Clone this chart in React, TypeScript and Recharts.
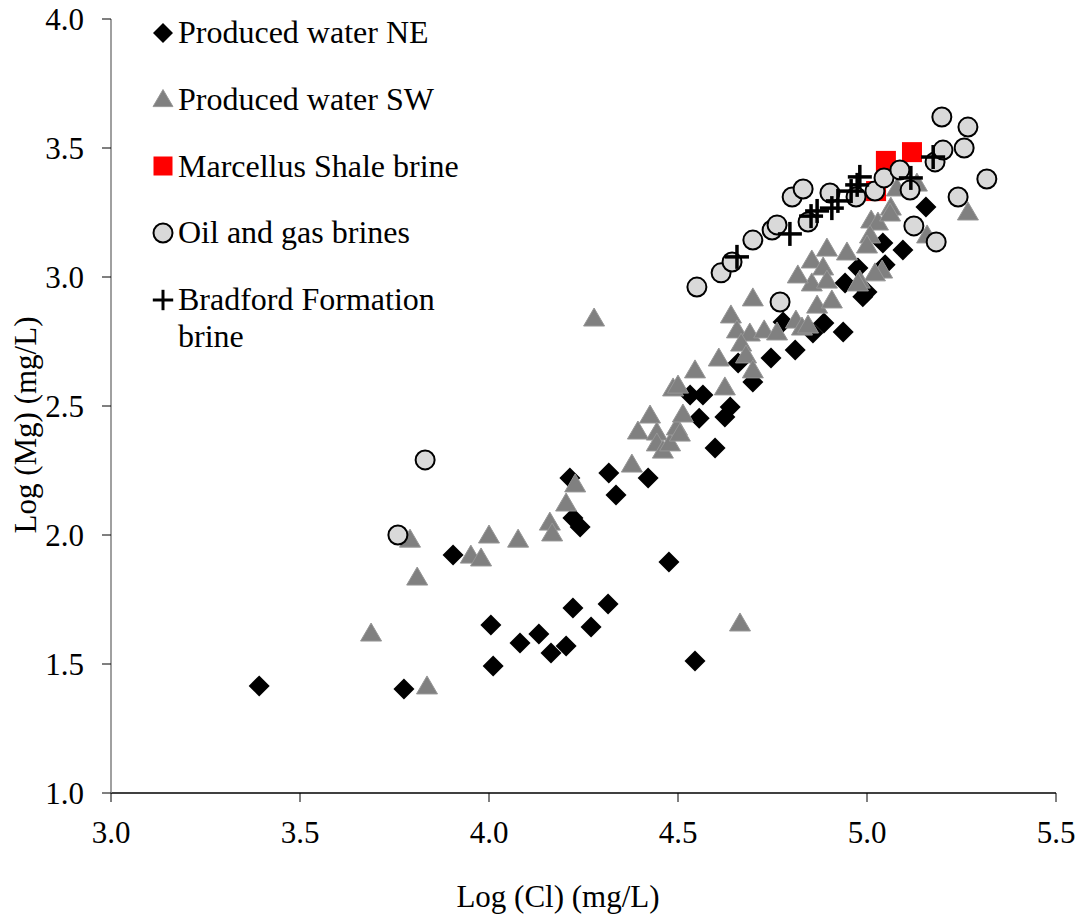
import React from 'react';
import { ScatterChart, Scatter, XAxis, YAxis, Legend } from 'recharts';

const FONT = '"Liberation Serif", "Times New Roman", serif';

const X_TICKS = [3.0, 3.5, 4.0, 4.5, 5.0, 5.5];
const Y_TICKS = [1.0, 1.5, 2.0, 2.5, 3.0, 3.5, 4.0];

const SERIES_NAMES = [
  'Produced water NE',
  'Produced water SW',
  'Marcellus Shale brine',
  'Oil and gas brines',
  'Bradford Formation brine',
];

const PRODUCED_NE: [number, number][] = [
  [3.392, 1.415], [3.775, 1.403], [3.905, 1.922], [4.005, 1.651], [4.011, 1.492],
  [4.082, 1.581], [4.132, 1.616], [4.164, 1.543], [4.204, 1.570], [4.222, 1.717],
  [4.270, 1.643], [4.315, 1.733], [4.476, 1.895], [4.545, 1.512], [4.214, 2.221],
  [4.222, 2.066], [4.241, 2.031], [4.317, 2.240], [4.336, 2.155], [4.421, 2.221],
  [4.532, 2.543], [4.566, 2.543], [4.556, 2.453], [4.598, 2.337], [4.624, 2.457],
  [4.638, 2.496], [4.659, 2.667], [4.698, 2.593], [4.746, 2.686], [4.810, 2.717],
  [4.778, 2.826], [4.857, 2.783], [4.886, 2.822], [4.937, 2.787], [4.976, 3.035],
  [4.942, 2.977], [5.000, 2.942], [4.989, 2.923], [5.042, 3.132], [5.048, 3.047],
  [5.095, 3.105], [5.156, 3.271],
];

const PRODUCED_SW: [number, number][] = [
  [3.688, 1.620], [3.791, 1.984], [3.810, 1.837], [3.836, 1.415], [3.952, 1.922],
  [3.979, 1.911], [4.000, 2.000], [4.077, 1.984], [4.161, 2.050], [4.167, 2.008],
  [4.204, 2.124], [4.228, 2.198], [4.278, 2.841], [4.378, 2.275], [4.394, 2.403],
  [4.426, 2.465], [4.444, 2.399], [4.444, 2.357], [4.460, 2.329], [4.479, 2.357],
  [4.497, 2.419], [4.505, 2.395], [4.513, 2.469], [4.487, 2.570], [4.500, 2.581],
  [4.545, 2.640], [4.608, 2.686], [4.624, 2.574], [4.640, 2.853], [4.656, 2.795],
  [4.690, 2.783], [4.667, 2.744], [4.680, 2.698], [4.698, 2.640], [4.698, 2.919],
  [4.728, 2.795], [4.762, 2.787], [4.812, 2.833], [4.828, 2.806], [4.844, 2.814],
  [4.868, 2.891], [4.854, 2.977], [4.907, 2.911], [4.664, 1.659], [4.817, 3.008],
  [4.854, 3.066], [4.884, 3.039], [4.894, 3.112], [4.894, 2.988], [4.947, 3.097],
  [5.011, 3.221], [5.029, 3.213], [5.008, 3.163], [5.000, 3.124], [5.063, 3.271],
  [5.061, 3.248], [5.040, 3.027], [5.021, 3.016], [4.981, 2.988], [4.976, 2.977],
  [5.132, 3.364], [5.079, 3.345], [5.267, 3.252], [5.159, 3.163],
];

const MARCELLUS: [number, number][] = [
  [5.050, 3.450], [5.119, 3.484], [5.024, 3.333],
];

const OIL_GAS: [number, number][] = [
  [3.759, 2.000], [3.831, 2.291], [4.550, 2.961], [4.614, 3.016], [4.643, 3.058],
  [4.698, 3.143], [4.749, 3.182], [4.762, 3.202], [4.770, 2.903], [4.802, 3.310],
  [4.831, 3.341], [4.844, 3.213], [4.902, 3.326], [4.971, 3.310], [5.021, 3.333],
  [5.045, 3.384], [5.087, 3.415], [5.114, 3.337], [5.124, 3.198], [5.183, 3.136],
  [5.241, 3.310], [5.317, 3.380], [5.180, 3.446], [5.201, 3.492], [5.257, 3.500],
  [5.267, 3.581], [5.198, 3.620],
];

const BRADFORD: [number, number][] = [
  [4.656, 3.078], [4.796, 3.167], [4.852, 3.236], [4.868, 3.256], [4.907, 3.267],
  [4.923, 3.295], [4.958, 3.333], [4.974, 3.357], [4.981, 3.388], [5.116, 3.384],
  [5.175, 3.465],
];

const toPts = (arr: [number, number][]) => arr.map(([x, y]) => ({ x, y }));

const Diamond = (p: any) => {
  const { cx, cy } = p;
  const s = 10.5;
  return <polygon points={`${cx},${cy - s} ${cx + s},${cy} ${cx},${cy + s} ${cx - s},${cy}`} fill="#000" />;
};
const Triangle = (p: any) => {
  const { cx, cy } = p;
  return (
    <polygon
      points={`${cx},${cy - 10} ${cx + 10.5},${cy + 8} ${cx - 10.5},${cy + 8}`}
      fill="#808080"
      stroke="#969696"
      strokeWidth={1}
    />
  );
};
const Square = (p: any) => {
  const { cx, cy } = p;
  return <rect x={cx - 10} y={cy - 10} width={20} height={20} fill="#ff0000" />;
};
const Circle = (p: any) => {
  const { cx, cy } = p;
  return <circle cx={cx} cy={cy} r={9.5} fill="#d9d9d9" stroke="#000" strokeWidth={2} />;
};
const Plus = (p: any) => {
  const { cx, cy } = p;
  const h = 12;
  return (
    <g stroke="#000" strokeWidth={3.5}>
      <line x1={cx - h} y1={cy} x2={cx + h} y2={cy} />
      <line x1={cx} y1={cy - h} x2={cx} y2={cy + h} />
    </g>
  );
};

const SHAPES = [Diamond, Triangle, Square, Circle, Plus];

const LegendMarker = ({ idx }: { idx: number }) => {
  const S = SHAPES[idx];
  const scale = idx === 4 ? 0.85 : idx === 3 ? 1 : 0.95;
  return (
    <svg width={24} height={24} style={{ display: 'block' }}>
      <g transform={`translate(12,12) scale(${scale})`}>
        <S cx={0} cy={0} />
      </g>
    </svg>
  );
};

const renderLegend = () => (
  <div style={{ fontFamily: FONT, fontSize: 32, color: '#000' }}>
    {SERIES_NAMES.map((name, i) => (
      <div key={name} style={{ display: 'flex', alignItems: 'flex-start', marginBottom: 29.75 }}>
        <div style={{ width: 24, height: 37, display: 'flex', alignItems: 'center' }}>
          <LegendMarker idx={i} />
        </div>
        <div style={{ lineHeight: '37px', marginLeft: 3, whiteSpace: 'nowrap' }}>
          {i === 4 ? (
            <>
              Bradford Formation
              <br />
              brine
            </>
          ) : (
            name
          )}
        </div>
      </div>
    ))}
  </div>
);

const XTitle = () => (
  <text x={558} y={907} textAnchor="middle" fontFamily={FONT} fontSize={31} fill="#000">
    Log (Cl) (mg/L)
  </text>
);
const YTitle = () => (
  <text
    x={25}
    y={425}
    transform="rotate(-90, 25, 425)"
    textAnchor="middle"
    dominantBaseline="central"
    fontFamily={FONT}
    fontSize={31}
    fill="#000"
  >
    Log (Mg) (mg/L)
  </text>
);

const DATASETS = [PRODUCED_NE, PRODUCED_SW, MARCELLUS, OIL_GAS, BRADFORD];

export default function App() {
  return (
    <div style={{ position: 'absolute', left: 0, top: 0, width: 1080, height: 920, background: '#fff' }}>
      <ScatterChart width={1080} height={920} margin={{ top: 19, right: 24, left: 0, bottom: 0 }}>
        <XAxis
          type="number"
          dataKey="x"
          domain={[3, 5.5]}
          ticks={X_TICKS}
          tickFormatter={(v: number) => v.toFixed(1)}
          height={127}
          tickSize={9}
          tickMargin={19}
          stroke="#000"
          tick={{ fill: '#000', fontFamily: FONT, fontSize: 31 }}
          tickLine={{ stroke: '#000' }}
          axisLine={{ stroke: '#000', strokeWidth: 1.5 }}
          allowDataOverflow
          label={<XTitle />}
        />
        <YAxis
          type="number"
          dataKey="y"
          domain={[1, 4]}
          ticks={Y_TICKS}
          tickFormatter={(v: number) => v.toFixed(1)}
          width={111}
          tickSize={9}
          tickMargin={18}
          tick={{ fill: '#000', fontFamily: FONT, fontSize: 31 }}
          tickLine={{ stroke: '#000' }}
          axisLine={{ stroke: '#808080', strokeWidth: 1.5 }}
          allowDataOverflow
          label={<YTitle />}
        />
        <Legend
          content={renderLegend}
          layout="vertical"
          align="center"
          verticalAlign="middle"
          wrapperStyle={{ left: 151, top: 14, width: 420, height: 'auto' }}
        />
        {DATASETS.map((d, i) => (
          <Scatter
            key={SERIES_NAMES[i]}
            name={SERIES_NAMES[i]}
            data={toPts(d)}
            shape={SHAPES[i]}
            isAnimationActive={false}
          />
        ))}
      </ScatterChart>
    </div>
  );
}
